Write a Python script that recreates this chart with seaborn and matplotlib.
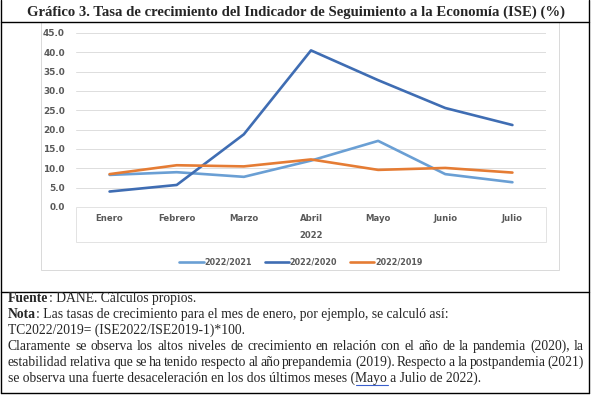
import matplotlib
matplotlib.use("Agg")
import matplotlib.pyplot as plt
import seaborn as sns
import pandas as pd
from matplotlib.lines import Line2D
from matplotlib.patches import Rectangle

months = ["Enero", "Febrero", "Marzo", "Abril", "Mayo", "Junio", "Julio"]
s_2021 = [8.3, 9.0, 7.8, 12.0, 17.1, 8.5, 6.4]
s_2020 = [4.0, 5.7, 18.8, 40.5, 32.8, 25.6, 21.2]
s_2019 = [8.5, 10.8, 10.5, 12.3, 9.6, 10.1, 8.9]
series_names = ["2022/2021", "2022/2020", "2022/2019"]
yticks = [0, 5, 10, 15, 20, 25, 30, 35, 40, 45]

colors = ["#6A9FD4", "#3F6DB3", "#E57C34"]

sns.set_theme(style="white")
plt.rcParams['font.family'] = ['DejaVu Sans']

W, H = 592, 395
fig = plt.figure(figsize=(W / 100, H / 100), dpi=100)

def fx(x):
    return x / W

def fy(y):
    return 1 - y / H

rows = []
for name, vals in zip(series_names, [s_2021, s_2020, s_2019]):
    for i, v in enumerate(vals):
        rows.append({"Mes": i, "Valor": v, "Serie": name})
df = pd.DataFrame(rows)

ax = fig.add_axes([fx(76), fy(207), fx(546) - fx(76), fy(33) - fy(207)])
sns.lineplot(data=df, x="Mes", y="Valor", hue="Serie", hue_order=series_names,
             palette=colors, linewidth=1.9, ax=ax, legend=False)

ax.set_xlim(-0.5, 6.5)
ax.set_ylim(0, 45)
ax.set_yticks(yticks)
ax.set_yticklabels([f"{t:.1f}" for t in yticks], fontsize=6.4, fontweight="bold", color="#595959")
ax.set_xticks(range(len(months)))
ax.set_xticklabels(months, fontsize=6.1, fontweight="bold", color="#595959")
ax.tick_params(axis="y", length=0, pad=8)
ax.tick_params(axis="x", length=0, pad=5)
ax.set_xlabel("2022", fontsize=6.1, fontweight="bold", color="#595959", labelpad=6)
ax.set_ylabel("")
ax.grid(axis="y", color="#DDDDDD", linewidth=0.7)
ax.grid(axis="x", visible=False)
for sp in ax.spines.values():
    sp.set_visible(False)
ax.set_facecolor("none")

fig.add_artist(Rectangle((fx(76), fy(242)), fx(546) - fx(76), fy(207) - fy(242),
                         transform=fig.transFigure, fill=False, edgecolor="#E3E3E3", linewidth=0.7))
fig.add_artist(Rectangle((fx(41), fy(270)), fx(559) - fx(41), fy(22) - fy(270),
                         transform=fig.transFigure, fill=False, edgecolor="#D9D9D9", linewidth=0.7))

handles = [Line2D([0], [0], color=c, linewidth=1.9) for c in colors]
leg = fig.legend(handles, series_names, loc="center", bbox_to_anchor=(fx(301), fy(262)),
                 ncol=3, frameon=False, handlelength=3.0, handletextpad=0.1, columnspacing=1.6,
                 prop={"size": 5.8, "weight": "bold"})
for t in leg.get_texts():
    t.set_color("#595959")

bl = dict(color="black", linewidth=1.0, transform=fig.transFigure)
fig.add_artist(Line2D([fx(1), fx(1)], [fy(0), fy(393)], **bl))
fig.add_artist(Line2D([fx(589), fx(589)], [fy(0), fy(393)], **bl))
fig.add_artist(Line2D([fx(1), fx(589)], [fy(22), fy(22)], **bl))
fig.add_artist(Line2D([fx(1), fx(589)], [fy(292), fy(292)], **bl))
fig.add_artist(Line2D([fx(1), fx(589)], [fy(393), fy(393)], **bl))

fig.text(fx(296), fy(12), "Gráfico 3. Tasa de crecimiento del Indicador de Seguimiento a la Economía (ISE) (%)",
         ha="center", va="center", fontsize=10.6, fontweight="bold", family="Liberation Serif")

renderer = fig.canvas.get_renderer()
FS = 9.8
SERIF = "Liberation Serif"
X0, X1 = 8, 584

def put(s, x, y, weight="normal"):
    return fig.text(fx(x), fy(y), s, fontsize=FS, fontweight=weight, family=SERIF,
                    ha="left", va="baseline")

def ink(s, weight="normal"):
    t = fig.text(0, 0, s, fontsize=FS, fontweight=weight, family=SERIF)
    w = t.get_window_extent(renderer).width
    t.remove()
    return w

def labeled_line(label, rest, y):
    put(label, X0, y, "bold")
    put(rest, X0 + ink(label, "bold") + 0.2, y)

def justified(s, y):
    words = s.split(" ")
    widths = [ink(w) for w in words]
    gap = (X1 - X0 - sum(widths)) / (len(words) - 1)
    x = X0
    for w, wd in zip(words, widths):
        put(w, x, y)
        x += wd + gap

labeled_line("Fuente", ": DANE. Cálculos propios.", 302)
labeled_line("Nota", ": Las tasas de crecimiento para el mes de enero, por ejemplo, se calculó así:", 318)
put("TC2022/2019= (ISE2022/ISE2019-1)*100.", X0, 334)
justified("Claramente se observa los altos niveles de crecimiento en relación con el año de la pandemia (2020), la", 350)
justified("estabilidad relativa que se ha tenido respecto al año prepandemia (2019). Respecto a la postpandemia (2021)", 366)
last = "se observa una fuerte desaceleración en los dos últimos meses (Mayo a Julio de 2022)."
put(last, X0, 382)
prefix = "se observa una fuerte desaceleración en los dos últimos meses ("
ux0 = X0 + ink(prefix) + 0.8
ux1 = ux0 + ink("Mayo")
fig.add_artist(Line2D([fx(ux0), fx(ux1)], [fy(384.5), fy(384.5)],
                      color="#3A5FCD", linewidth=0.8, transform=fig.transFigure))

fig.savefig("out.png", dpi=100)
